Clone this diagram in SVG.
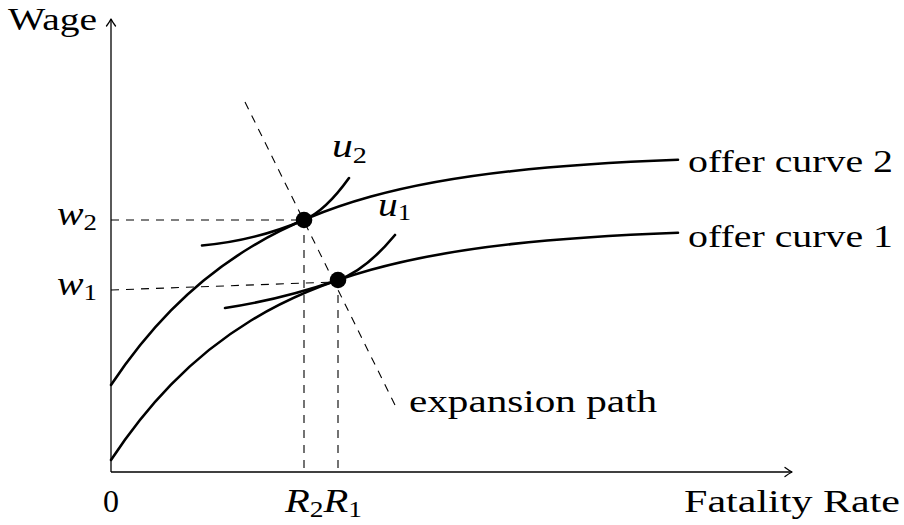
<svg xmlns="http://www.w3.org/2000/svg" width="904" height="525" viewBox="0 0 904 525">
<style>
  text { font-family: 'Liberation Serif', 'Times New Roman', Times, serif; font-size: 32px; fill: #000; }
  .it { font-style: italic; font-size: 34px; }
  .sub { font-size: 23px; font-style: normal; }
  .axis { fill: none; stroke: #000; stroke-width: 1.3; }
  .curve { fill: none; stroke: #000; stroke-width: 2.6; stroke-linecap: round; }
  .dash { fill: none; stroke: #000; stroke-width: 1.1; stroke-dasharray: 8 7; }
  .arrowhead { fill: none; stroke: #000; stroke-width: 1.3; stroke-linecap: round; stroke-linejoin: round; }
</style>
<rect width="904" height="525" fill="#fff"/>

<g id="connectors">
  <line class="axis" x1="111" y1="472" x2="111" y2="19"/>
  <path class="arrowhead" d="M106.5,26 Q109.5,22 111,19 Q112.5,22 115.5,26"/>
  <line class="axis" x1="111" y1="472" x2="792" y2="472"/>
  <path class="arrowhead" d="M785,467.5 Q789,470.5 792,472 Q789,473.5 785,476.5"/>

  <line class="dash" x1="111" y1="220" x2="304" y2="220"/>
  <line class="dash" x1="111" y1="290" x2="334" y2="282"/>
  <line class="dash" x1="304" y1="220" x2="304" y2="472"/>
  <line class="dash" x1="338" y1="280" x2="338" y2="472"/>
  <line class="dash" x1="245" y1="102" x2="395" y2="405"/>
</g>

<g id="offer-curve-2">
  <path class="curve" d="M111,385 C131,354.97 151,330.73 171,310.4 C197.67,283.29 224.33,263.12 251,247 C291,222.82 331,207.68 371,196.6 C417.67,183.67 464.33,176.4 511,171.2 C566.67,164.99 622.33,161.9 678,159.8"/>
  <text x="688" y="172" textLength="205" lengthAdjust="spacingAndGlyphs">offer curve 2</text>
</g>

<g id="offer-curve-1">
  <path class="curve" d="M111,460 C131,429.62 151,405.15 171,384.6 C197.67,357.21 224.33,336.76 251,320.5 C291,296.11 331,280.96 371,269.8 C417.67,256.78 464.33,249.38 511,244.16 C566.67,237.93 622.33,234.88 678,232.78"/>
  <text x="688" y="247" textLength="205" lengthAdjust="spacingAndGlyphs">offer curve 1</text>
</g>

<g id="u2">
  <path class="curve" d="M202,245.5 Q255.8,240.6 304,220 Q325.6,210.75 349,178"/>
  <text class="it" x="332" y="157" textLength="35" lengthAdjust="spacingAndGlyphs">u<tspan class="sub" dy="6">2</tspan></text>
</g>

<g id="u1">
  <path class="curve" d="M225,308 Q281.4,299.5 338,280 Q365.5,270.5 395,235"/>
  <text class="it" x="378" y="216" textLength="33" lengthAdjust="spacingAndGlyphs">u<tspan class="sub" dy="4">1</tspan></text>
</g>

<g id="point-2">
  <circle cx="304" cy="220" r="8.3" fill="#000"/>
</g>
<g id="point-1">
  <circle cx="338" cy="280" r="8.3" fill="#000"/>
</g>

<g id="expansion-path-label">
  <text x="409" y="412" textLength="248" lengthAdjust="spacingAndGlyphs">expansion path</text>
</g>

<g id="labels">
  <text x="8" y="30" textLength="89" lengthAdjust="spacingAndGlyphs">Wage</text>
  <text x="103" y="512">0</text>
  <text x="684" y="512" textLength="216" lengthAdjust="spacingAndGlyphs">Fatality Rate</text>
  <text class="it" x="57" y="225" textLength="40" lengthAdjust="spacingAndGlyphs">w<tspan class="sub" dy="5">2</tspan></text>
  <text class="it" x="57" y="295" textLength="40" lengthAdjust="spacingAndGlyphs">w<tspan class="sub" dy="5">1</tspan></text>
  <text class="it" x="285" y="512" textLength="77" lengthAdjust="spacingAndGlyphs">R<tspan class="sub" dy="5">2</tspan><tspan dy="-5">R</tspan><tspan class="sub" dy="5">1</tspan></text>
</g>
</svg>
